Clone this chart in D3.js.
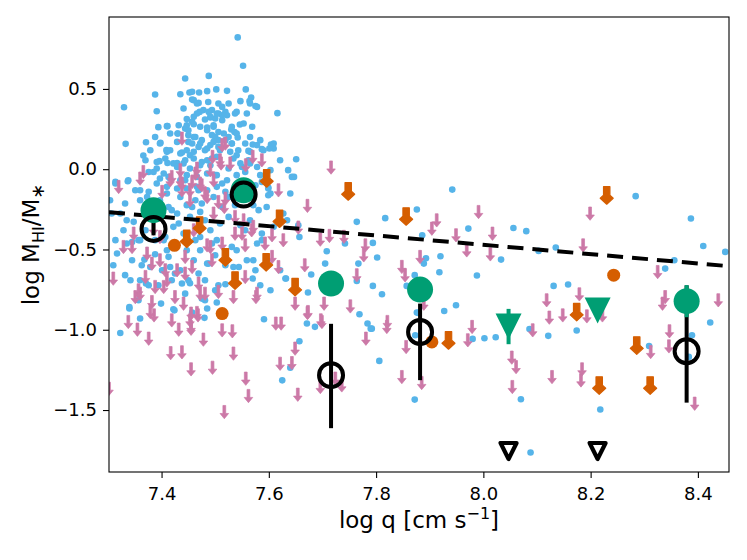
<!DOCTYPE html>
<html>
<head>
<meta charset="utf-8">
<script src="https://cdn.jsdelivr.net/npm/d3@7"></script>
<style>
  body { margin: 0; background: #fff; }
  svg { display: block; font-family: "DejaVu Sans", sans-serif; }
</style>
</head>
<body>
<svg id="chart"></svg>
<script>
// HI detections (blue dots): [log q, log MHI/M*]
const detections = [
  [7.542,0.821],[7.552,0.644],[7.488,0.581],[7.444,0.565],[7.330,0.386],[7.388,0.465],[7.391,0.361],[7.333,0.158],
  [7.435,0.467],[7.452,0.478],[7.457,0.482],[7.470,0.478],[7.485,0.486],[7.502,0.497],[7.522,0.488],[7.557,0.497],
  [7.567,0.447],[7.564,0.424],[7.575,0.393],[7.547,0.424],[7.457,0.434],[7.469,0.413],[7.487,0.419],[7.494,0.368],
  [7.471,0.357],[7.525,0.409],[7.537,0.347],[7.519,0.357],[7.513,0.336],[7.616,0.349],[7.447,0.312],[7.481,0.310],
  [7.491,0.322],[7.500,0.316],[7.506,0.347],[7.394,0.262],[7.411,0.268],[7.460,0.280],[7.444,0.253],[7.485,0.260],
  [7.497,0.264],[7.546,0.278],[7.530,0.247],[7.536,0.232],[7.542,0.197],[7.430,0.222],[7.450,0.212],[7.463,0.201],
  [7.475,0.181],[7.500,0.201],[7.516,0.222],[7.371,0.168],[7.398,0.164],[7.409,0.120],[7.366,0.085],[7.438,0.104],
  [7.453,0.087],[7.469,0.139],[7.481,0.118],[7.457,0.160],[7.491,0.150],[7.506,0.181],[7.531,0.160],[7.540,0.087],
  [7.562,0.114],[7.570,0.154],[7.587,0.125],[7.604,0.154],[7.609,0.129],[7.651,0.062],[7.647,-0.048],[7.396,0.050],
  [7.411,0.039],[7.429,0.039],[7.444,0.056],[7.475,0.045],[7.494,0.067],[7.550,0.014],[7.562,0.056],[7.391,0.004],
  [7.376,-0.017],[7.410,0.268],[7.430,0.222],[7.447,0.274],[7.457,0.295],[7.466,0.347],[7.478,0.368],[7.491,0.326],
  [7.503,0.347],[7.513,0.305],[7.522,0.336],[7.531,0.264],[7.540,0.222],[7.472,0.264],[7.485,0.243],[7.497,0.274],
  [7.506,0.232],[7.460,0.201],[7.450,0.170],[7.472,0.160],[7.485,0.129],[7.497,0.170],[7.506,0.139],[7.519,0.181],
  [7.531,0.160],[7.543,0.118],[7.556,0.160],[7.565,0.108],[7.578,0.150],[7.590,0.118],[7.397,0.160],[7.416,0.118],
  [7.435,0.098],[7.447,0.118],[7.391,0.045],[7.407,0.067],[7.422,0.036],[7.441,0.036],[7.460,0.067],[7.472,0.025],
  [7.485,0.056],[7.503,0.077],[7.534,0.067],[7.547,0.036],[7.565,0.036],[7.578,0.014],[7.385,-0.017],[7.404,-0.027],
  [7.416,-0.058],[7.435,-0.069],[7.447,-0.037],[7.466,-0.048],[7.485,-0.027],[7.503,-0.037],[7.522,-0.069],[7.540,-0.037],
  [7.391,-0.089],[7.410,-0.110],[7.429,-0.120],[7.447,-0.120],[7.466,-0.110],[7.485,-0.131],[7.503,-0.110],[7.519,-0.141],
  [7.525,-0.173],[7.587,-0.079],[7.599,-0.114],[7.609,0.160],[7.601,0.129],
  [7.314,-0.079],[7.338,-0.069],[7.360,-0.193],[7.373,-0.173],[7.397,-0.193],[7.413,-0.235],[7.429,-0.276],[7.447,-0.224],
  [7.472,-0.266],[7.422,-0.359],[7.441,-0.401],[7.472,-0.422],[7.491,-0.380],[7.503,-0.442],[7.404,-0.442],[7.360,-0.442],
  [7.335,-0.463],[7.345,-0.567],[7.317,-0.525],[7.304,-0.193],[7.323,-0.276],[7.348,-0.328],[7.540,-0.505],[7.578,-0.463],
  [7.534,-0.609],[7.485,-0.588],[7.460,-0.567],[7.435,-0.629],[7.404,-0.629],[7.379,-0.609],[7.571,-0.224],[7.596,-0.235],
  [7.627,-0.276],[7.603,-0.151],[7.640,-0.151],[7.634,-0.318],[7.609,-0.359],[7.587,-0.401],
  [7.337,-0.075],[7.314,-0.089],[7.307,-0.276],[7.335,-0.318],[7.357,-0.442],[7.345,-0.453],[7.368,-0.563],[7.388,-0.530],
  [7.413,-0.546],[7.401,-0.629],[7.425,-0.650],[7.416,-0.609],[7.438,-0.712],[7.450,-0.692],[7.469,-0.650],[7.481,-0.692],
  [7.444,-0.775],[7.481,-0.816],[7.506,-0.723],[7.544,-0.609],[7.575,-0.629],[7.556,-0.380],[7.581,-0.255],[7.525,-0.297],
  [7.513,-0.235],[7.475,-0.214],[7.457,-0.235],[7.419,-0.255],[7.432,-0.338],[7.407,-0.422],[7.410,-0.151],[7.413,-0.048],
  [7.444,-0.069],[7.469,-0.131],[7.500,-0.037],[7.513,-0.089],[7.643,-0.048],[7.599,-0.120],[7.599,-0.162],[7.631,-0.681],
  [7.340,-0.858],[7.357,-0.816],[7.376,-0.723],[7.363,-0.598],[7.332,-0.214],[7.351,-0.131],[7.376,-0.141],[7.544,-0.131],
  [7.494,-0.463],[7.463,-0.442],[7.587,-0.442],[7.571,-0.567],[7.531,-0.484],[7.488,-0.588],[7.419,-0.692],
  [7.460,0.430],[7.466,0.409],[7.506,0.409],[7.565,0.409],[7.578,0.388],[7.441,0.378],[7.460,0.326],[7.488,0.357],
  [7.513,0.388],[7.540,0.357],[7.559,0.347],[7.432,0.274],[7.553,0.285],[7.569,0.264],[7.416,0.222],[7.450,0.243],
  [7.494,0.212],[7.525,0.201],[7.565,0.201],[7.584,0.181],[7.429,0.170],[7.509,0.118],[7.528,0.108],[7.460,0.108],
  [7.410,0.108],[7.388,0.201],[7.379,0.118],[7.370,0.056],[7.429,0.014],[7.453,0.004],[7.491,0.025],[7.525,0.004],
  [7.556,-0.017],[7.584,-0.037],[7.603,-0.006],[7.621,0.056],[7.636,-0.006],[7.397,-0.058],[7.360,-0.131],[7.379,-0.214],
  [7.435,-0.173],[7.463,-0.193],[7.497,-0.173],[7.537,-0.224],[7.556,-0.162],[7.575,-0.100],[7.397,-0.297],[7.453,-0.297],
  [7.481,-0.318],[7.509,-0.338],[7.547,-0.349],[7.565,-0.318],[7.447,-0.505],[7.410,-0.505],[7.472,-0.505],[7.500,-0.536],
  [7.519,-0.598],[7.559,-0.567],[7.388,-0.442],[7.370,-0.380],[7.329,-0.380],[7.314,-0.442],[7.310,-0.598],[7.332,-0.660],
  [7.360,-0.692],[7.394,-0.723],[7.453,-0.710],[7.500,-0.754],[7.584,-0.723],[7.603,-0.754],[7.621,-0.629],
  [7.942,-0.127],[7.876,-0.251],[7.817,-0.305],[7.764,-0.328],[7.657,-0.422],[7.655,-0.349],[7.708,-0.511],[7.742,-0.463],
  [7.794,-0.459],[7.886,-0.411],[7.972,-0.370],[8.056,-0.366],[7.705,-0.588],[7.679,-0.656],[7.767,-0.588],[7.802,-0.550],
  [7.893,-0.555],[7.920,-0.542],[7.889,-0.588],[7.872,-0.660],[7.918,-0.642],[7.988,-0.662],[8.033,-0.563],[7.764,-0.696],
  [7.794,-0.727],[7.811,-0.779],[7.673,-0.768],[7.857,-0.727],[8.284,-0.168],[8.387,-0.307],[8.410,-0.478],[8.451,-0.515],
  [8.080,-0.386],[8.135,-0.488],[8.103,-0.509],[8.339,-0.619],[8.356,-0.567],[7.927,-0.883],[7.949,-0.847],[7.876,-0.893],
  [7.792,-0.993],[7.806,-1.194],[7.872,-1.435],[7.980,-1.057],[8.002,-1.053],[8.023,-1.047],[8.086,-0.995],[8.121,-1.038],
  [8.131,-0.727],[8.158,-0.718],[8.174,-1.005],[8.070,-1.433],[8.088,-1.765],[8.218,-1.497],[8.309,-1.101],[8.389,-1.034],
  [8.383,-1.169],[8.423,-0.955],[7.769,-0.903],[7.784,-0.961],[7.790,-0.993],[7.671,-0.961],[7.686,-0.982],[7.657,-1.072],
  [7.879,-0.895],[7.873,-1.034],[7.323,-1.020],[7.340,-0.868],[7.360,-0.930],[7.342,-0.692],[7.371,-0.712],[7.399,-0.837],
  [7.422,-0.872],[7.457,-0.893],[7.480,-0.926],[7.485,-0.868],[7.503,-0.830],[7.475,-0.806],[7.519,-0.717],[7.570,-0.681],
  [7.632,-0.681],[7.591,-0.935],[7.625,-1.315],[7.640,-1.236],[7.424,-0.879]
];

// HI upper limits (pink arrows)
const upperLimits = [
  [7.716,0.011],[7.672,-0.228],[7.655,-0.363],[7.696,-0.438],[7.713,-0.415],[7.740,-0.421],[7.780,-0.474],[7.777,-0.536],
  [7.764,-0.660],[7.667,-0.598],[7.848,-0.608],[7.854,-0.660],[7.882,-0.546],[7.904,-0.370],[7.913,-0.318],[7.949,-0.411],
  [7.969,-0.505],[7.991,-0.266],[8.017,-0.401],[8.013,-0.530],[8.199,-0.276],[8.186,-0.474],[8.325,-0.640],[7.820,-0.982],
  [7.856,-1.107],[7.848,-1.294],[7.885,-1.331],[7.979,-0.982],[7.971,-1.065],[8.092,-1.003],[8.053,-1.173],[8.061,-1.232],
  [8.054,-1.356],[8.128,-1.294],[8.118,-0.816],[8.123,-0.924],[8.148,-0.910],[8.179,-0.779],[8.193,-0.916],[8.222,-0.910],
  [8.184,-1.246],[8.182,-1.315],[8.312,-1.138],[8.334,-0.837],[8.339,-0.796],[8.347,-1.009],[8.346,-1.103],[8.438,-0.816],
  [8.394,-1.460],[7.649,-0.837],[7.673,-0.889],[7.703,-0.837],[7.699,-0.951],[7.752,-0.854],[7.821,-0.951],[7.781,-1.055],
  [7.649,-1.117],[7.654,-1.404],[7.696,-1.356],[7.736,-1.346],[7.724,-1.304],[7.889,-0.837],[7.310,-0.681],[7.338,-0.951],
  [7.355,-0.999],[7.376,-1.055],[7.386,-0.910],[7.360,-0.775],[7.382,-0.827],[7.419,-0.941],[7.432,-0.999],[7.417,-1.145],
  [7.438,-1.140],[7.453,-0.941],[7.455,-0.993],[7.466,-0.895],[7.478,-1.061],[7.495,-1.236],[7.455,-1.246],[7.472,-0.775],
  [7.506,-0.764],[7.513,-1.003],[7.532,-1.009],[7.534,-1.148],[7.557,-1.304],[7.562,-1.412],[7.517,-1.512],[7.576,-0.796],
  [7.613,-0.961],[7.623,-0.961],[7.621,-1.211],[7.643,-1.207],[7.672,-0.895],[7.697,-0.941],[7.302,-1.367],[7.455,-0.899],
  [7.468,-0.910],[7.455,-0.982],[7.320,-0.110],[7.360,-0.058],[7.366,-0.017],[7.419,-0.048],[7.438,-0.089],[7.463,-0.027],
  [7.475,-0.100],[7.481,-0.151],[7.506,-0.204],[7.497,-0.276],[7.519,-0.183],[7.537,-0.297],[7.550,-0.401],[7.568,-0.380],
  [7.593,-0.463],[7.618,-0.131],[7.606,-0.546],[7.618,-0.609],[7.556,-0.671],[7.578,-0.775],[7.534,-0.796],[7.481,-0.775],
  [7.469,-0.712],[7.457,-0.609],[7.444,-0.650],[7.429,-0.629],[7.407,-0.629],[7.397,-0.567],[7.382,-0.588],[7.370,-0.671],
  [7.357,-0.754],[7.351,-0.796],[7.388,-0.733],[7.404,-0.733],[7.410,-0.692],[7.425,-0.796],[7.441,-0.837],[7.379,-0.889],
  [7.329,-0.484],[7.345,-0.484],[7.385,-0.370],[7.491,-0.484],[7.444,-0.546],[7.494,-0.567],[7.513,-0.463],[7.438,0.191],
  [7.519,0.160],[7.509,0.056],[7.587,0.056],[7.570,0.077],[7.557,0.025],[7.528,0.036],[7.495,0.077],[7.466,0.004],
  [7.416,-0.069],[7.438,-0.131],[7.472,-0.089],[7.485,-0.173],[7.453,-0.193],[7.517,-0.235],[7.627,-0.442],[7.606,-0.411],
  [7.553,-0.318],[7.537,-0.401],[7.571,-0.359],[7.556,-0.474],[7.485,-0.474],[7.460,-0.380],[7.397,-0.422],[7.348,-0.401],
  [7.373,-0.525],[7.513,0.150],[7.511,0.036],[7.435,-0.006],[7.491,-0.006],[7.435,-0.069],[7.457,-0.079],[7.497,-0.069],
  [7.453,-0.131],[7.401,-0.141]
];

// second sample: upper limits (orange arrows) and detections (orange dots)
const orangeLimits = [
  [7.596,-0.056],[7.748,-0.137],[7.856,-0.293],[8.230,-0.162],[7.471,-0.349],[7.447,-0.432],[7.620,-0.307],[7.519,-0.548],
  [7.595,-0.578],[7.537,-0.692],[7.649,-0.733],[7.935,-1.065],[8.174,-0.889],[8.216,-1.346],[8.286,-1.097],[8.311,-1.346]
];
const orangeDetections = [[7.424,-0.474],[7.513,-0.899],[7.904,-1.076],[8.243,-0.660]];

// binned values
const binQ = [7.385, 7.553, 7.716, 7.882, 8.047, 8.213, 8.379];
const binDet = [-0.255, -0.131, -0.712, -0.750, -0.980, -0.880, -0.822];
const binDetErr = [0.03, 0.03, 0.03, 0.03, 0.11, 0.03, 0.10];
const binDetIsLimit = [false, false, false, false, true, true, false];
const binAll = [-0.372, -0.158, -1.283, -1.014, -1.752, -1.752, -1.134];
const binAllErrUp = [0.04, 0.03, 0.32, 0.177, 0, 0, 0.41];
const binAllErrDown = [0.04, 0.03, 0.33, 0.30, 0, 0, 0.32];
const binAllIsLimit = [false, false, false, false, true, true, false];

// dashed fit line end points
const fitQ = [7.302, 8.458];
const fitY = [-0.268, -0.604];

const xTicks = [7.4, 7.6, 7.8, 8.0, 8.2, 8.4];
const yTicks = [-1.5, -1.0, -0.5, 0.0, 0.5];

const BLUE = '#56B4E9', PINK = '#CC79A7', ORANGE = '#D55E00', GREEN = '#009E73';
const W = 747, H = 560;
const M = { left: 109, right: 18, top: 17, bottom: 88 };

const x = d3.scaleLinear().domain([7.302, 8.458]).range([M.left, W - M.right]);
const y = d3.scaleLinear().domain([-1.886, 0.948]).range([H - M.bottom, M.top]);

const svg = d3.select('#chart').attr('width', W).attr('height', H);
svg.append('rect').attr('width', W).attr('height', H).attr('fill', '#fff');

svg.append('clipPath').attr('id', 'plot-clip')
  .append('rect')
  .attr('x', M.left).attr('y', M.top)
  .attr('width', W - M.left - M.right).attr('height', H - M.top - M.bottom);

const plot = svg.append('g').attr('clip-path', 'url(#plot-clip)');

plot.selectAll('.det')
  .data(detections)
  .enter()
  .append('circle')
  .attr('cx', d => x(d[0]))
  .attr('cy', d => y(d[1]))
  .attr('r', 3.3)
  .attr('fill', BLUE);

const smallArrow = 'M-1.4,-6.5 L1.4,-6.5 L1.4,1.5 L4.3,1.5 L0,6.8 L-4.3,1.5 L-1.4,1.5 Z';
plot.selectAll('.lim')
  .data(upperLimits)
  .enter()
  .append('path')
  .attr('d', smallArrow)
  .attr('transform', d => `translate(${x(d[0])},${y(d[1])})`)
  .attr('fill', PINK)
  .attr('stroke', PINK)
  .attr('stroke-width', 0.7)
  .attr('stroke-linejoin', 'round');

// thick shaft plus diamond-ish head
const bigArrow = 'M-3.2,-8.5 L3.2,-8.5 L3.2,0 L6.5,3 L0,9 L-6.5,3 L-3.2,0 Z';
plot.selectAll('.olim')
  .data(orangeLimits)
  .enter()
  .append('path')
  .attr('d', bigArrow)
  .attr('transform', d => `translate(${x(d[0])},${y(d[1])})`)
  .attr('fill', ORANGE)
  .attr('stroke', ORANGE)
  .attr('stroke-width', 1.2)
  .attr('stroke-linejoin', 'round');

plot.selectAll('.odet')
  .data(orangeDetections)
  .enter()
  .append('circle')
  .attr('cx', d => x(d[0]))
  .attr('cy', d => y(d[1]))
  .attr('r', 6.5)
  .attr('fill', ORANGE);

// fit line
plot.append('line')
  .attr('x1', x(fitQ[0])).attr('y1', y(fitY[0]))
  .attr('x2', x(fitQ[1])).attr('y2', y(fitY[1]))
  .attr('stroke', '#000')
  .attr('stroke-width', 4)
  .attr('stroke-dasharray', '16,9');

const bins = binQ.map((q, i) => ({
  q: q,
  det: binDet[i], detErr: binDetErr[i], detLim: binDetIsLimit[i],
  all: binAll[i], up: binAllErrUp[i], down: binAllErrDown[i], allLim: binAllIsLimit[i]
}));

// black error bars
plot.selectAll('.allerr')
  .data(bins.filter(d => !d.allLim))
  .enter()
  .append('line')
  .attr('x1', d => x(d.q)).attr('x2', d => x(d.q))
  .attr('y1', d => y(d.all + d.up)).attr('y2', d => y(d.all - d.down))
  .attr('stroke', '#000')
  .attr('stroke-width', 4);

// green error bars
plot.selectAll('.deterr')
  .data(bins)
  .enter()
  .append('line')
  .attr('x1', d => x(d.q)).attr('x2', d => x(d.q))
  .attr('y1', d => y(d.det + d.detErr)).attr('y2', d => y(d.det - d.detErr))
  .attr('stroke', GREEN)
  .attr('stroke-width', 4);

plot.selectAll('.detc')
  .data(bins.filter(d => !d.detLim))
  .enter()
  .append('circle')
  .attr('cx', d => x(d.q))
  .attr('cy', d => y(d.det))
  .attr('r', 13)
  .attr('fill', GREEN);

plot.selectAll('.dett')
  .data(bins.filter(d => d.detLim))
  .enter()
  .append('path')
  .attr('d', 'M-13,-13 L13,-13 L0,13 Z')
  .attr('transform', d => `translate(${x(d.q)},${y(d.det)})`)
  .attr('fill', GREEN);

plot.selectAll('.allc')
  .data(bins.filter(d => !d.allLim))
  .enter()
  .append('circle')
  .attr('cx', d => x(d.q))
  .attr('cy', d => y(d.all))
  .attr('r', 12)
  .attr('fill', 'none')
  .attr('stroke', '#000')
  .attr('stroke-width', 4);

plot.selectAll('.allt')
  .data(bins.filter(d => d.allLim))
  .enter()
  .append('path')
  .attr('d', 'M-8,-7.5 L8,-7.5 L0,8.5 Z')
  .attr('transform', d => `translate(${x(d.q)},${y(d.all)})`)
  .attr('fill', 'none')
  .attr('stroke', '#000')
  .attr('stroke-width', 4.2)
  .attr('stroke-linejoin', 'round');

// axes
const fmt = d3.format('.1f');
const xAxis = svg.append('g')
  .attr('transform', `translate(0,${H - M.bottom})`)
  .call(d3.axisBottom(x).tickValues(xTicks).tickFormat(fmt).tickSize(6).tickPadding(9).tickSizeOuter(0));
const yAxis = svg.append('g')
  .attr('transform', `translate(${M.left},0)`)
  .call(d3.axisLeft(y).tickValues(yTicks).tickFormat(fmt).tickSize(6).tickPadding(6).tickSizeOuter(0));

[xAxis, yAxis].forEach(g => {
  g.select('.domain').remove();
  g.selectAll('line').attr('stroke', '#000').attr('stroke-width', 1.1);
  g.selectAll('text').attr('fill', '#000').style('font-size', '18px').style('font-family', '"DejaVu Sans", sans-serif');
});

svg.append('rect')
  .attr('x', M.left).attr('y', M.top)
  .attr('width', W - M.left - M.right).attr('height', H - M.top - M.bottom)
  .attr('fill', 'none')
  .attr('stroke', '#000')
  .attr('stroke-width', 1.1);

// axis labels
const xl = svg.append('text')
  .attr('x', (M.left + W - M.right) / 2)
  .attr('y', 528)
  .attr('text-anchor', 'middle')
  .style('font-size', '23px');
xl.append('tspan').text('log q [cm s');
xl.append('tspan').text('\u22121').attr('dy', -9).style('font-size', '16px');
xl.append('tspan').text(']').attr('dy', 9);

const yl = svg.append('text')
  .attr('transform', `translate(39,${(M.top + H - M.bottom) / 2}) rotate(-90)`)
  .attr('text-anchor', 'middle')
  .style('font-size', '23px');
yl.append('tspan').text('log M');
yl.append('tspan').text('HI').attr('dy', 4.5).style('font-size', '16px');
yl.append('tspan').text('/M').attr('dy', -4.5);
yl.append('tspan').text('\u2217').attr('dy', 4.5).style('font-size', '18px');
</script>
</body>
</html>
